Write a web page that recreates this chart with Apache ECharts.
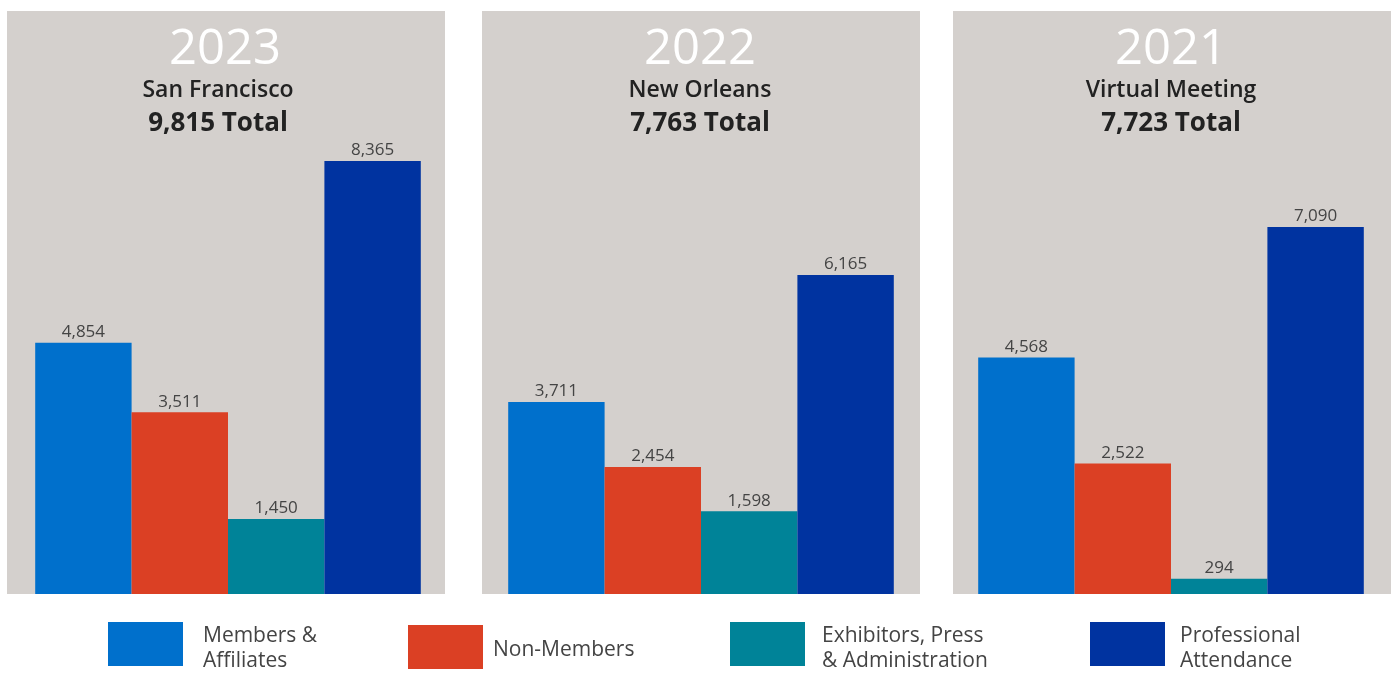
<!DOCTYPE html>
<html><head><meta charset="utf-8">
<script src="https://cdn.jsdelivr.net/npm/echarts@6/dist/echarts.min.js"></script>
<style>html,body{margin:0;padding:0;background:#fff}#c{width:1398px;height:673px}</style>
</head><body><div id="c"></div>
<script>
const years = ['2023', '2022', '2021'];
const places = ['San Francisco', 'New Orleans', 'Virtual Meeting'];
const totals = [9815, 7763, 7723];
const seriesNames = ['Members & Affiliates', 'Non-Members', 'Exhibitors, Press & Administration', 'Professional Attendance'];
const legendLines = [['Members &', 'Affiliates'], ['Non-Members'], ['Exhibitors, Press', '& Administration'], ['Professional', 'Attendance']];
const members = [4854, 3711, 4568];
const nonMembers = [3511, 2454, 2522];
const exhibitors = [1450, 1598, 294];
const professional = [8365, 6165, 7090];

const colors = ['#0070cc', '#db4024', '#008398', '#0033a0'];
const values = [members, nonMembers, exhibitors, professional];
const FONT = 'Open Sans';
const panelLeft = [7, 482, 953];
const panelW = 438;
const barLeft = [35, 508, 978];
const barAreaW = 386;
const titleCx = [225, 700, 1171];
const subCx = [218, 700, 1171];
const fmt = v => v.toLocaleString('en-US');

const grid = [], xAxis = [], yAxis = [], series = [], title = [], graphic = [];
years.forEach((y, i) => {
  graphic.push({type: 'rect', z: -10, silent: true,
    shape: {x: panelLeft[i], y: 11, width: panelW, height: 583},
    style: {fill: '#d4d0cd'}});
  grid.push({left: barLeft[i], width: barAreaW, top: 11, bottom: 79, containLabel: false});
  xAxis.push({type: 'category', gridIndex: i, data: [y], show: false});
  yAxis.push({type: 'value', gridIndex: i, min: 0, max: 11263, show: false});
  seriesNames.forEach((n, k) => {
    series.push({name: n, type: 'bar', xAxisIndex: i, yAxisIndex: i,
      data: [values[k][i]], barWidth: 96.4, barGap: '0%',
      itemStyle: {color: colors[k]},
      label: {show: true, position: 'top', distance: 2, formatter: p => fmt(p.value),
        color: '#444', fontFamily: FONT, fontSize: 17}});
  });
  title.push({text: y, left: titleCx[i], top: 26, padding: 0, textAlign: 'center',
    textStyle: {color: '#fff', fontSize: 49, fontWeight: 500, fontFamily: FONT}});
  title.push({text: places[i], left: subCx[i], top: 79, padding: 0, textAlign: 'center',
    textStyle: {color: '#222', fontSize: 23, fontWeight: 600, fontFamily: FONT}});
  title.push({text: fmt(totals[i]) + ' Total', left: subCx[i], top: 111, padding: 0, textAlign: 'center',
    textStyle: {color: '#222', fontSize: 26, fontWeight: 'bold', fontFamily: FONT}});
});

const legLeft = [108, 408, 730, 1090];
const legTop = [614, 625, 614, 614];
const legPad = [15, 5, 12, 10];
const spacerH = [10, 6, 10, 10];
const legend = seriesNames.map((n, k) => ({
  data: [n], left: legLeft[k], top: legTop[k], padding: 0, itemWidth: 75, itemHeight: 44,
  icon: 'rect', selectedMode: false,
  formatter: () => '{s| }\n' + legendLines[k].map(t => '{a|' + t + '}').join('\n'),
  textStyle: {color: '#444', fontSize: 21, lineHeight: 25, fontFamily: FONT,
    padding: [0, 0, 0, legPad[k]],
    rich: {
      s: {fontSize: 2, lineHeight: spacerH[k], height: spacerH[k]},
      a: {color: '#444', fontSize: 21, lineHeight: 25, fontFamily: FONT}
    }}
}));

const chart = echarts.init(document.getElementById('c'));
chart.setOption({animation: false, graphic, title, grid, xAxis, yAxis, series, legend});
</script></body></html>
